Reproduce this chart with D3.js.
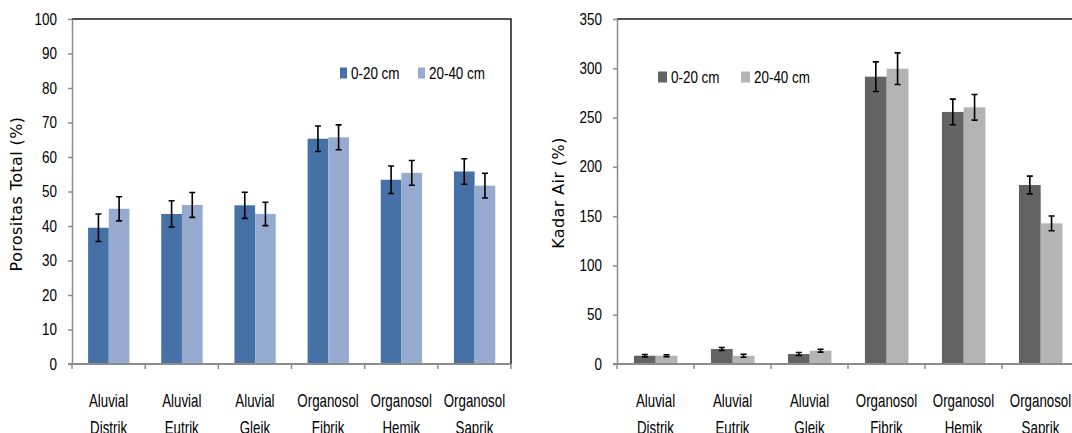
<!DOCTYPE html>
<html>
<head>
<meta charset="utf-8">
<script src="https://cdn.jsdelivr.net/npm/d3@7"></script>
<style>
  body { margin: 0; background: #fff; }
  svg { display: block; }
  .tick-label { font-family: "Liberation Sans", Arial, sans-serif; font-size: 16px; fill: #000; }
  .cat-label { font-family: "Liberation Sans", Arial, sans-serif; font-size: 18px; fill: #000; }
  .axis-title { font-family: "DejaVu Sans", Verdana, sans-serif; font-size: 16px; letter-spacing: 0.4px; fill: #000; }
</style>
</head>
<body>
<svg id="chart" width="1072" height="433"></svg>
<script>
var categories = [["Aluvial","Distrik"],["Aluvial","Eutrik"],["Aluvial","Gleik"],
                  ["Organosol","Fibrik"],["Organosol","Hemik"],["Organosol","Saprik"]];
var seriesNames = ["0-20 cm", "20-40 cm"];

// porositas total (%)
var poro0_20 = [39.5, 43.5, 46.0, 65.3, 53.4, 55.8];
var poro20_40 = [45.0, 46.1, 43.5, 65.7, 55.4, 51.7];
var poroErr0_20 = [4.0, 3.8, 3.8, 3.7, 4.0, 3.7];
var poroErr20_40 = [3.5, 3.6, 3.4, 3.6, 3.6, 3.6];
var poroTicks = [0,10,20,30,40,50,60,70,80,90,100];

// kadar air (%)
var air0_20 = [8.4, 15.2, 10.1, 291.5, 255.7, 181.6];
var air20_40 = [8.4, 8.4, 13.5, 299.6, 260.4, 142.7];
var airErr0_20 = [1.2, 1.5, 1.5, 15, 13, 9];
var airErr20_40 = [1.0, 1.5, 1.5, 16, 13, 7.5];
var airTicks = [0,50,100,150,200,250,300,350];

var sx = 0.84;   // squeeze labels to look like the narrow office font
var sxCat = 0.74;
var svg = d3.select("#chart");

function drawChart(cfg){
  var g = svg.append("g");
  var top = 19, bottom = 364;

  var x0 = d3.scaleBand()
    .domain(d3.range(categories.length))
    .range([cfg.left, cfg.right])
    .padding(0);

  var x1 = d3.scaleBand()
    .domain([0, 1])
    .range([x0.bandwidth() * 0.22, x0.bandwidth() * 0.785]);

  var y = d3.scaleLinear()
    .domain([0, d3.max(cfg.ticks)])
    .range([bottom, top]);

  var data = categories.map((c, i) => ({
    i: i,
    vals: [
      {k: 0, v: cfg.a[i], e: cfg.ae[i]},
      {k: 1, v: cfg.b[i], e: cfg.be[i]}
    ]
  }));

  // frame top and right
  g.append("path")
    .attr("d", `M${cfg.left},${top}H${cfg.right}V${bottom}`)
    .attr("fill", "none")
    .attr("stroke", "#1a1a1a")
    .attr("stroke-width", 1.5);

  // bars
  var grp = g.selectAll("g.cat").data(data).join("g")
    .attr("class", "cat")
    .attr("transform", d => `translate(${x0(d.i)},0)`);

  grp.selectAll("rect").data(d => d.vals).join("rect")
    .attr("x", d => x1(d.k))
    .attr("y", d => y(d.v))
    .attr("width", x1.bandwidth())
    .attr("height", d => y(0) - y(d.v))
    .attr("fill", d => cfg.colors[d.k]);

  // error bars
  var eb = grp.selectAll("g.err").data(d => d.vals).join("g")
    .attr("class", "err")
    .attr("transform", d => `translate(${x1(d.k) + x1.bandwidth() / 2},0)`);
  eb.append("path")
    .attr("d", d => `M0,${y(d.v + d.e)}V${y(d.v - d.e)}M-3,${y(d.v + d.e)}h6M-3,${y(d.v - d.e)}h6`)
    .attr("stroke", "#000")
    .attr("stroke-width", 1.6)
    .attr("fill", "none");

  // y axis
  var yAxis = g.append("g")
    .attr("transform", `translate(${cfg.left},0)`)
    .call(d3.axisLeft(y).tickValues(cfg.ticks).tickSize(4).tickSizeOuter(0));
  yAxis.selectAll("line, path").attr("stroke", "#8c8c8c").attr("stroke-width", 1.5);
  yAxis.selectAll("text")
    .attr("class", "tick-label").attr("font-family", null).attr("font-size", null)
    .attr("x", -15 / sx)
    .attr("transform", `scale(${sx},1)`);

  // x axis (ticks at category boundaries)
  var bounds = d3.range(categories.length + 1).map(i => i < categories.length ? x0(i) : cfg.right);
  var xg = g.append("g");
  xg.append("line")
    .attr("x1", cfg.left - 4).attr("x2", cfg.right)
    .attr("y1", y(0)).attr("y2", y(0))
    .attr("stroke", "#8c8c8c").attr("stroke-width", 2);
  xg.selectAll("line.t").data(bounds).join("line")
    .attr("class", "t")
    .attr("x1", d => d).attr("x2", d => d)
    .attr("y1", y(0)).attr("y2", y(0) + 5)
    .attr("stroke", "#8c8c8c").attr("stroke-width", 1.5);
  var lab = xg.selectAll("text").data(categories).join("text")
    .attr("class", "cat-label")
    .attr("text-anchor", "middle")
    .attr("transform", (d, i) => `translate(${x0(i) + x0.bandwidth() / 2},0) scale(${sxCat},1)`);
  lab.append("tspan").attr("x", 0).attr("y", 407).text(d => d[0]);
  lab.append("tspan").attr("x", 0).attr("y", 434).text(d => d[1]);

  // y title
  g.append("text")
    .attr("class", "axis-title")
    .attr("text-anchor", "middle")
    .attr("transform", `translate(${cfg.titleX},${cfg.titleY}) rotate(-90)`)
    .text(cfg.title);

  // legend
  var lg = g.selectAll("g.leg").data(seriesNames).join("g")
    .attr("class", "leg")
    .attr("transform", (d, i) => `translate(${cfg.legendX[i]},${cfg.legendY})`);
  lg.append("rect")
    .attr("x", 0).attr("y", -5.5)
    .attr("width", cfg.sq).attr("height", 11)
    .attr("fill", (d, i) => cfg.colors[i]);
  lg.append("text")
    .attr("class", "tick-label")
    .attr("x", (cfg.sq + 4) / sx)
    .attr("y", 0)
    .attr("dy", "0.35em")
    .attr("transform", `scale(${sx},1)`)
    .text(d => d);
}

drawChart({
  left: 72, right: 511,
  ticks: poroTicks, a: poro0_20, b: poro20_40, ae: poroErr0_20, be: poroErr20_40,
  colors: ["#4571a7", "#97abd1"],
  title: "Porositas Total (%)", titleX: 22, titleY: 194,
  legendX: [340, 418], legendY: 73, sq: 7
});

drawChart({
  left: 617, right: 1079,
  ticks: airTicks, a: air0_20, b: air20_40, ae: airErr0_20, be: airErr20_40,
  colors: ["#636363", "#b4b4b4"],
  title: "Kadar Air (%)", titleX: 564, titleY: 193,
  legendX: [658, 741], legendY: 77, sq: 9
});
</script>
</body>
</html>
